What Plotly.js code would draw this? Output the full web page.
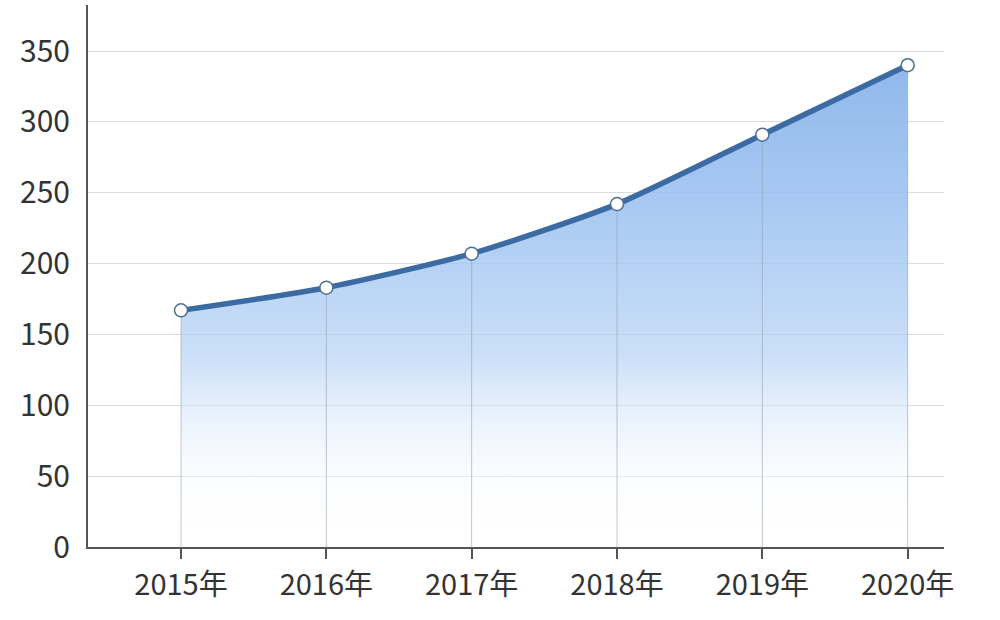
<!DOCTYPE html>
<html>
<head>
<meta charset="utf-8">
<script src="https://cdn.plot.ly/plotly-3.0.1.min.js"></script>
<style>html,body{margin:0;padding:0;background:#fff;}#chart{width:1000px;height:620px;}</style>
</head>
<body>
<div id="chart"></div>
<script>
const years = ['2015年', '2016年', '2017年', '2018年', '2019年', '2020年'];
const values = [167, 183, 207, 242, 291, 340];
const yTicks = [0, 50, 100, 150, 200, 250, 300, 350];

const trace = {
  type: 'scatter',
  mode: 'lines+markers',
  x: years,
  y: values,
  line: {color: '#3b6ba2', width: 5.5, shape: 'spline', smoothing: 0.6},
  marker: {symbol: 'circle', size: 13, color: '#ffffff', line: {color: '#4d6f90', width: 1.5}},
  fill: 'tozeroy',
  fillgradient: {
    type: 'vertical',
    start: 0,
    stop: 340,
    colorscale: [
      [0, 'rgba(255,255,255,0)'],
      [0.15, 'rgba(245,249,254,0.4)'],
      [0.4, 'rgba(185,212,245,0.75)'],
      [0.7, 'rgba(150,190,240,0.82)'],
      [1, 'rgba(125,172,232,0.85)']
    ]
  },
  error_y: {
    type: 'data',
    symmetric: false,
    array: values.map(() => 0),
    arrayminus: values,
    width: 0,
    thickness: 1,
    color: 'rgba(150,160,175,0.6)'
  },
  hoverinfo: 'x+y',
  showlegend: false
};

const layout = {
  width: 1000,
  height: 620,
  margin: {l: 88, r: 56, t: 5, b: 73},
  paper_bgcolor: '#ffffff',
  plot_bgcolor: '#ffffff',
  font: {family: '"Noto Sans CJK SC", "Noto Sans", sans-serif', color: '#333333'},
  xaxis: {
    type: 'category',
    categoryarray: years,
    range: [-0.64, 5.25],
    showgrid: false,
    zeroline: false,
    showline: true,
    linecolor: '#555555',
    linewidth: 2,
    ticks: 'outside',
    ticklen: 10,
    tickwidth: 2,
    tickcolor: '#555555',
    tickfont: {size: 29, color: '#333333'},
    ticklabelstandoff: 1
  },
  yaxis: {
    range: [0, 382.5],
    tickvals: yTicks,
    ticktext: yTicks.map(String),
    showgrid: true,
    gridcolor: '#dcdcdc',
    gridwidth: 1,
    zeroline: false,
    showline: true,
    linecolor: '#555555',
    linewidth: 2,
    ticks: '',
    tickfont: {size: 30, color: '#333333'},
    ticklabelstandoff: 10
  }
};

Plotly.newPlot('chart', [trace], layout, {displayModeBar: false, staticPlot: true});
</script>
</body>
</html>
